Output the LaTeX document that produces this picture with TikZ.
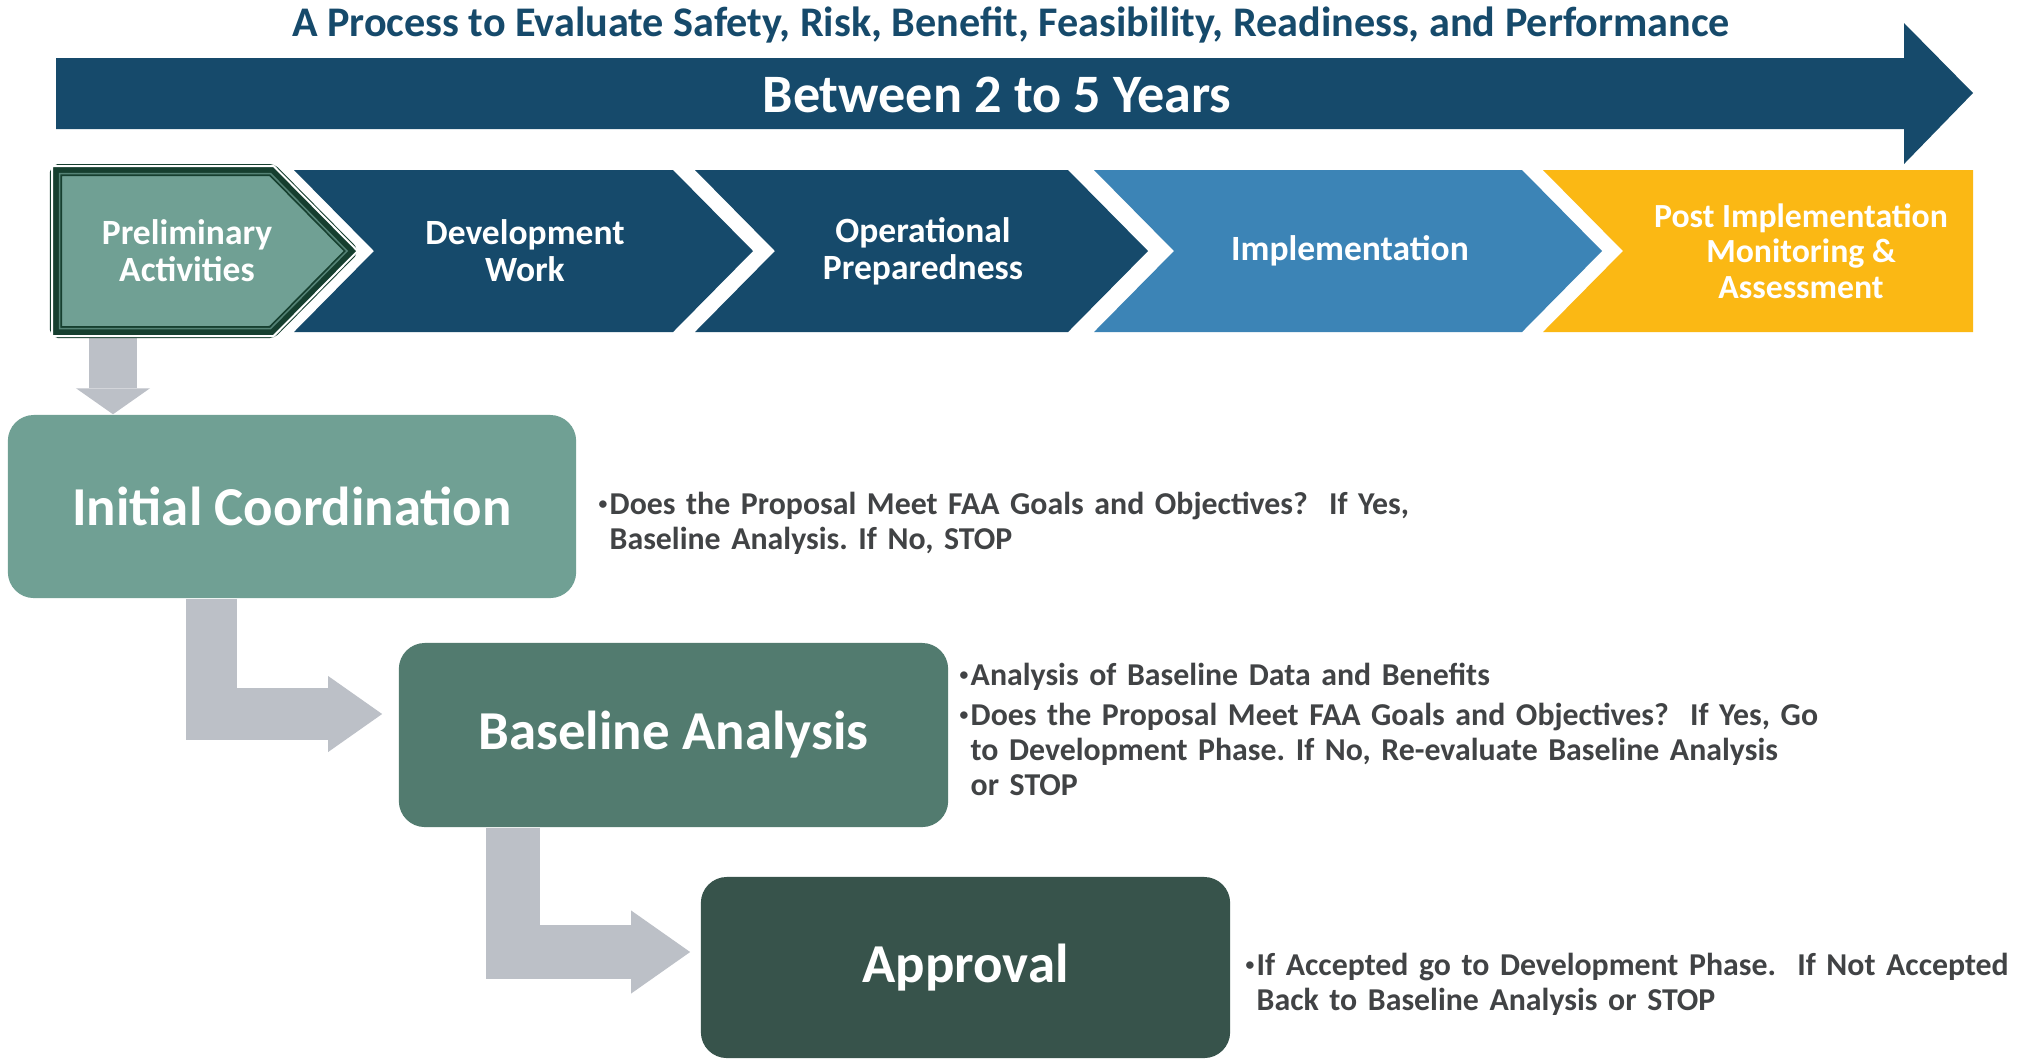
\documentclass[tikz,border=0pt]{standalone}
\usepackage{fontspec}
\setmainfont{Carlito}
\usepackage{xcolor}
\usetikzlibrary{arrows.meta}
\definecolor{navy}{HTML}{164A6B}
\definecolor{skyblue}{HTML}{3C84B6}
\definecolor{amber}{HTML}{FBB814}
\definecolor{sage}{HTML}{70A094}
\definecolor{teal}{HTML}{527B6F}
\definecolor{forest}{HTML}{37534B}
\definecolor{pinegreen}{HTML}{163F2F}
\definecolor{arrowgray}{HTML}{BCC0C7}
\definecolor{txtgray}{HTML}{414345}

\newcommand{\bul}{\makebox[0.11cm][l]{\raisebox{1.4pt}{\fontsize{5}{5}\selectfont\textbullet}}}
\newcommand{\ind}{\hspace*{0.11cm}}
\frenchspacing

\begin{document}
\begin{tikzpicture}[x=0.01cm, y=-0.01cm,
  stage/.style={rounded corners=0.26cm, text=white, inner sep=0pt, align=center,
    font=\fontsize{15.6}{18}\selectfont\bfseries},
  phase/.style={text=white, align=center, inner sep=0pt,
    font=\fontsize{10.1}{10.5}\selectfont\bfseries},
  desc/.style={text=txtgray, anchor=base west, inner sep=0pt, text width=10cm, align=left,
    font=\fontsize{9.05}{10}\selectfont\bfseries},
  blockarrow/.style={draw=arrowgray, line join=miter}]
  \useasboundingbox (0,0) rectangle (2024,1059);
  \fill[white] (0,0) rectangle (2024,1059);

  % timeline arrow
  \fill[navy] (56,58) -- (1904,58) -- (1904,23) -- (1973,93) -- (1904,164) -- (1904,129) -- (56,129) -- cycle;
  \node[text=navy, anchor=base, inner sep=0pt, font=\fontsize{12}{13}\selectfont\bfseries] (title) at (1011,36)
    {A Process to Evaluate Safety, Risk, Benefit, Feasibility, Readiness, and Performance};
  \node[text=white, inner sep=0pt, font=\fontsize{15.4}{18}\selectfont\bfseries] (span) at (997,95) {Between 2 to 5 Years};

  % gray arrow out of the first phase
  \coordinate (prebot) at (113,330);
  \node[stage, fill=sage, minimum width=5.68cm, minimum height=1.83cm] (ic) at (292,506.5) {Initial Coordination};
  \draw[blockarrow, line width=0.48cm, -{Triangle[width=0.74cm, length=0.26cm, line width=0pt]}]
    (prebot) -- (prebot |- ic.north);

  % phases
  \foreach \a/\b/\c in {294/673/navy, 695/1068/navy, 1094/1522/skyblue}
    \fill[\c] (\a,170) -- (\b,170) -- (\b+80,251) -- (\b,332) -- (\a,332) -- (\a+80,251) -- cycle;
  \fill[amber] (1543,170) -- (1973,170) -- (1973,332) -- (1543,332) -- (1623,251) -- cycle;
  \draw[fill=sage, draw=pinegreen, line width=0.12cm, rounded corners=0.03cm]
    (56,170) -- (272,170) -- (352,251) -- (272,332) -- (56,332) -- cycle;
  \foreach \d/\c/\w in {4/white/2, -3.5/sage!70!pinegreen/1.5}
    \draw[\c, line width=\w*0.01cm] ({56-(\d)},{170-(\d)}) -- ({272+0.41*(\d)},{170-(\d)}) -- ({352+1.41*(\d)},251)
      -- ({272+0.41*(\d)},{332+(\d)}) -- ({56-(\d)},{332+(\d)}) -- cycle;

  \node[phase] (pre) at (187,251) {Preliminary\\Activities};
  \node[phase] (dev) at (525,251) {Development\\Work};
  \node[phase] (ops) at (923,251) {Operational\\Preparedness};
  \node[phase] (imp) at (1350,251) {Implementation};
  \node[phase, font=\fontsize{9.6}{10.1}\selectfont\bfseries] (post) at (1801,251) {Post Implementation\\Monitoring \&\\Assessment};

  % steps
  \node[stage, fill=teal, minimum width=5.49cm, minimum height=1.84cm] (ba) at (673.5,735) {Baseline Analysis};
  \node[stage, fill=forest, minimum width=5.29cm, minimum height=1.81cm] (ap) at (965.5,967.5) {Approval};

  \draw[blockarrow, line width=0.51cm, -{Triangle[width=0.76cm, length=0.54cm, line width=0pt]}, shorten >=0.16cm]
    ([xshift=2.04cm]ic.south west) |- ([yshift=0.21cm]ba.west);
  \draw[blockarrow, line width=0.54cm, -{Triangle[width=0.83cm, length=0.59cm, line width=0pt]}, shorten >=0.10cm]
    ([xshift=1.15cm]ba.south west) |- ([yshift=0.155cm]ap.west);

  % notes
  \node[desc] (icnote) at (598,514) {\bul Does the Proposal Meet FAA Goals and Objectives?~ If Yes,\\
    \ind Baseline Analysis. If No, STOP};
  \node[desc] (banote) at (959,685) {\bul Analysis of Baseline Data and Benefits\\[0.05cm]
    \bul Does the Proposal Meet FAA Goals and Objectives?~ If Yes, Go\\
    \ind to Development Phase. If No, Re-evaluate Baseline Analysis\\
    \ind or STOP};
  \node[desc] (apnote) at (1245,975) {\bul If Accepted go to Development Phase.~ If Not Accepted\\
    \ind Back to Baseline Analysis or STOP};
\end{tikzpicture}
\end{document}
